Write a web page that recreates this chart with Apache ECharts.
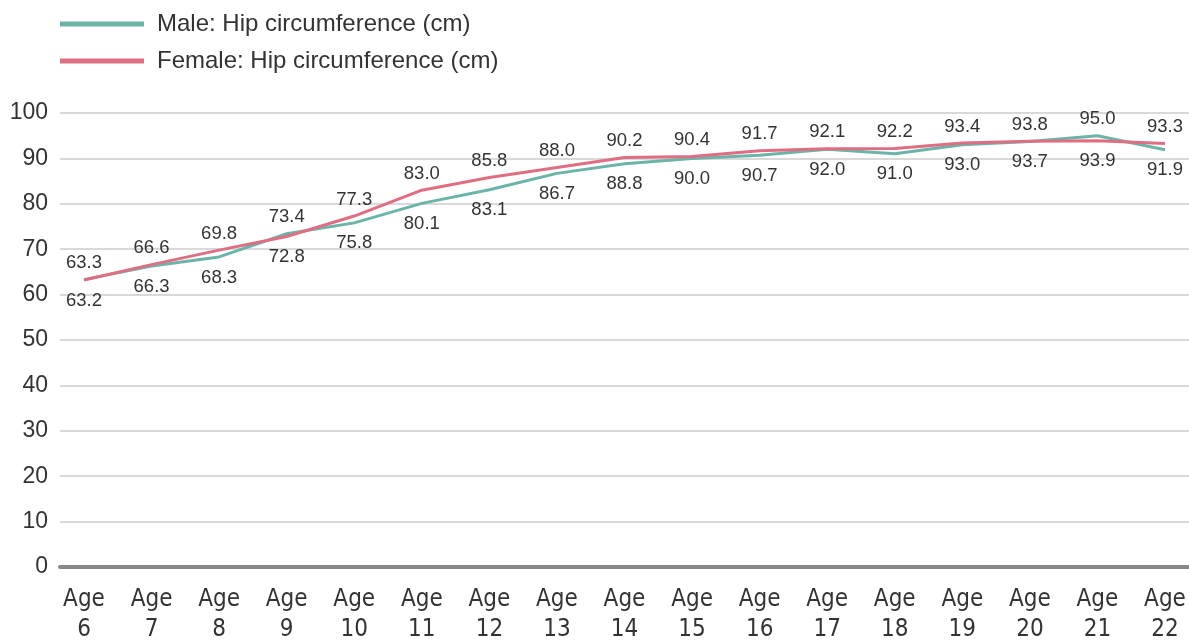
<!DOCTYPE html>
<html>
<head>
<meta charset="utf-8">
<script src="https://cdn.jsdelivr.net/npm/echarts@6/dist/echarts.min.js"></script>
<style>
html,body{margin:0;padding:0;background:#fff;}
#chart{width:1189px;height:641px;}
</style>
</head>
<body>
<div id="chart"></div>
<script>
const categories = ['Age 6','Age 7','Age 8','Age 9','Age 10','Age 11','Age 12','Age 13','Age 14','Age 15','Age 16','Age 17','Age 18','Age 19','Age 20','Age 21','Age 22'];
const maleHip = [63.3,66.3,68.3,73.4,75.8,80.1,83.1,86.7,88.8,90.0,90.7,92.0,91.0,93.0,93.7,95.0,91.9];
const femaleHip = [63.2,66.6,69.8,72.8,77.3,83.0,85.8,88.0,90.2,90.4,91.7,92.1,92.2,93.4,93.8,93.9,93.3];
const yTicks = {min:0, max:100, interval:10};
const seriesNames = ['Male: Hip circumference (cm)','Female: Hip circumference (cm)'];

const MALE_COLOR = '#6cb4a8';
const FEMALE_COLOR = '#df6e82';
const TEXT = '#333333';
const FONT = '"Liberation Sans", Arial, Helvetica, sans-serif';
const NARROW = '"Liberation Sans Narrow", "DejaVu Sans Condensed", "Liberation Sans", sans-serif';

function buildData(vals, other) {
  return vals.map((v, i) => {
    const above = v >= other[i];
    return { value: v, label: { position: above ? 'top' : 'bottom', distance: above ? 7 : 11 } };
  });
}

const labelStyle = { show: true, fontSize: 18.5, color: TEXT, fontFamily: FONT,
  formatter: p => p.value.toFixed(1) };

const chart = echarts.init(document.getElementById('chart'), null, {renderer:'canvas'});
const gridTop = 113, gridBottom = 74;
chart.setOption({
  animation: false,
  backgroundColor: '#fff',
  legend: {
    orient: 'vertical',
    left: 60,
    top: 12,
    padding: 0,
    itemWidth: 84,
    itemHeight: 5,
    itemGap: 13,
    icon: 'rect',
    textStyle: { fontSize: 24, color: TEXT, fontFamily: FONT, padding: [0,0,0,8] },
    data: seriesNames
  },
  grid: [
    { left: 60, right: 0, top: gridTop, bottom: gridBottom, outerBoundsMode: 'none', containLabel: false },
    { left: 84, right: 24, top: gridTop, bottom: gridBottom, outerBoundsMode: 'none', containLabel: false }
  ],
  xAxis: [
    { type: 'category', gridIndex: 0, data: categories, boundaryGap: false,
      axisLine: { show: true, lineStyle: { color: '#888888', width: 4 } },
      axisTick: { show: false }, axisLabel: { show: false }, splitLine: { show: false } },
    { type: 'category', gridIndex: 1, data: categories, boundaryGap: false,
      axisLine: { show: false }, axisTick: { show: false },
      axisLabel: { show: true, interval: 0, margin: 18, fontSize: 24, lineHeight: 30,
        color: TEXT, fontFamily: NARROW, formatter: v => v.replace(' ', '\n') } }
  ],
  yAxis: [
    { type: 'value', gridIndex: 0, min: yTicks.min, max: yTicks.max, interval: yTicks.interval,
      axisLine: { show: false }, axisTick: { show: false },
      axisLabel: { fontSize: 23, color: TEXT, fontFamily: FONT, margin: 12 },
      splitLine: { show: true, lineStyle: { color: '#d9d9d9', width: 2 } } },
    { type: 'value', gridIndex: 1, min: yTicks.min, max: yTicks.max, interval: yTicks.interval,
      show: false, splitLine: { show: false } }
  ],
  series: [
    { name: seriesNames[0], type: 'line', xAxisIndex: 1, yAxisIndex: 1,
      data: buildData(maleHip, femaleHip), symbol: 'circle', symbolSize: 0, showSymbol: true,
      color: MALE_COLOR, lineStyle: { color: MALE_COLOR, width: 3 },
      label: labelStyle, z: 3 },
    { name: seriesNames[1], type: 'line', xAxisIndex: 1, yAxisIndex: 1,
      data: buildData(femaleHip, maleHip), symbol: 'circle', symbolSize: 0, showSymbol: true,
      color: FEMALE_COLOR, lineStyle: { color: FEMALE_COLOR, width: 3 },
      label: labelStyle, z: 4 }
  ]
});
</script>
</body>
</html>
